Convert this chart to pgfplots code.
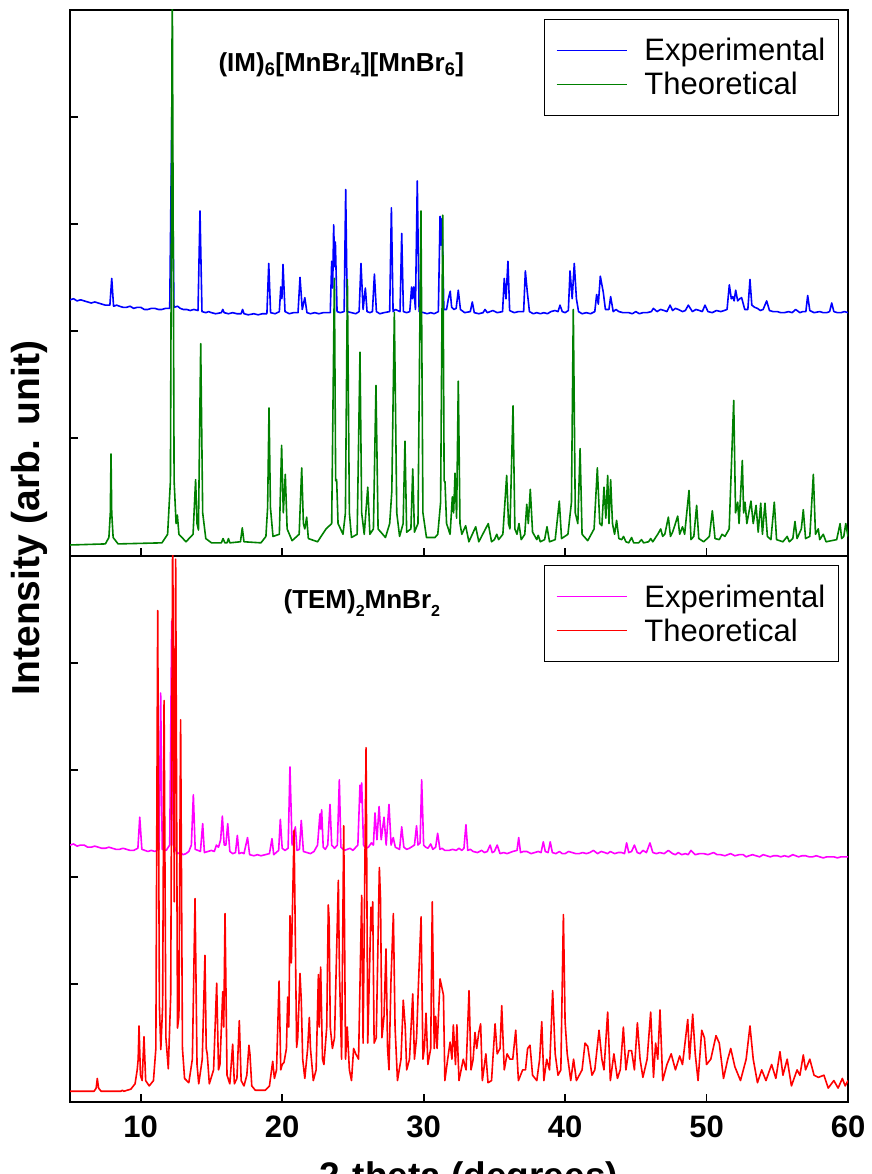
\documentclass[border=0pt]{standalone}
\usepackage{pgfplots}
\pgfplotsset{compat=1.18}
\usepackage{fontspec}
\setmainfont{Liberation Sans}
\definecolor{cblue}{RGB}{0,0,255}
\definecolor{cgreen}{RGB}{0,128,0}
\definecolor{cmag}{RGB}{255,0,255}
\definecolor{cred}{RGB}{255,0,0}
\newcommand{\tickfont}{\fontsize{31}{31}\selectfont\bfseries}
\newcommand{\legfont}{\fontsize{31}{34}\selectfont}
\newcommand{\titfont}{\fontsize{26}{26}\selectfont\bfseries}
\pgfplotsset{
  xrdaxis/.style={
    scale only axis, width=778pt, height=546pt,
    xmin=5, xmax=60, ymin=-0.1, ymax=5,
    xtick={10,20,30,40,50,60}, ytick={1,2,3,4}, yticklabels={},
    xtick pos=bottom, ytick pos=left,
    tick align=inside, major tick length=8pt,
    axis line style={line width=1.8pt, black},
    every tick/.style={line width=1.8pt, black},
    tick label style={font=\tickfont},
    xticklabel style={yshift=-10pt},
    /pgf/number format/assume math mode=true,
    legend cell align=left,
    legend style={at={(0.9884,0.9835)}, anchor=north east, draw=black, line width=1.4pt,
      font=\legfont, inner xsep=11pt, inner ysep=17pt, row sep=6pt,
      /tikz/every odd column/.append style={column sep=15pt}},
    legend image code/.code={\draw[#1,line width=1.6pt] (0pt,0pt) -- (70pt,0pt);},
    every axis plot/.append style={line width=1.6pt, line join=round},
  }
}
\begin{document}
\begin{tikzpicture}[x=1pt,y=1pt]
\begin{axis}[xrdaxis, at={(70pt,618.3pt)}, anchor=south west, xticklabels={}]
\addplot[cblue] coordinates {
(5,2.29) (5.25,2.3) (5.5,2.28) (5.75,2.29) (6,2.28) (6.25,2.27) (6.5,2.26) (6.75,2.27) (7,2.26) (7.25,2.25) (7.5,2.24) (7.82,2.24) (7.95,2.49) (8.08,2.23) (8.3,2.24) (8.5,2.23) (8.75,2.22) (9,2.22) (9.25,2.23) (9.5,2.21) (9.75,2.22) (10,2.22) (10.25,2.2) (10.5,2.2) (10.75,2.21) (11,2.21) (11.25,2.2) (11.5,2.2) (11.75,2.21) (12.05,2.21) (12.2,4.04) (12.35,2.22) (12.6,2.23) (12.8,2.21) (13,2.2) (13.25,2.2) (13.5,2.19) (13.75,2.2) (14.05,2.19) (14.19,3.12) (14.33,2.18) (14.6,2.17) (14.8,2.18) (15,2.17) (15.3,2.16) (15.7,2.17) (15.8,2.2) (15.9,2.17) (16.2,2.16) (16.5,2.17) (16.8,2.16) (17.1,2.16) (17.2,2.2) (17.3,2.16) (17.6,2.15) (18,2.16) (18.3,2.15) (18.6,2.16) (18.92,2.16) (19.05,2.63) (19.18,2.17) (19.5,2.16) (19.8,2.18) (19.9,2.41) (19.98,2.3) (20.06,2.62) (20.2,2.18) (20.5,2.16) (20.8,2.17) (21.12,2.17) (21.26,2.5) (21.42,2.2) (21.6,2.31) (21.75,2.17) (22.0,2.16) (22.3,2.17) (22.6,2.16) (22.9,2.17) (23.4,2.17) (23.5,2.65) (23.57,2.4) (23.64,2.99) (23.71,2.6) (23.76,2.83) (23.88,2.18) (24.1,2.17) (24.38,2.18) (24.49,3.32) (24.6,2.18) (24.9,2.17) (25.2,2.16) (25.44,2.18) (25.57,2.63) (25.72,2.2) (25.88,2.4) (26.0,2.18) (26.2,2.17) (26.38,2.18) (26.52,2.53) (26.66,2.18) (26.9,2.16) (27.2,2.17) (27.6,2.18) (27.72,3.15) (27.84,2.18) (28.0,2.2) (28.33,2.18) (28.45,2.91) (28.57,2.18) (28.8,2.17) (29.02,2.18) (29.15,2.41) (29.22,2.3) (29.3,2.41) (29.42,2.2) (29.55,3.4) (29.68,2.18) (30,2.17) (30.25,2.16) (30.5,2.17) (30.75,2.16) (31.04,2.18) (31.16,3.07) (31.23,2.8) (31.3,3.05) (31.43,2.2) (31.62,2.2) (31.75,2.3) (31.88,2.37) (31.98,2.22) (32.15,2.2) (32.3,2.21) (32.45,2.38) (32.6,2.2) (32.9,2.17) (33.3,2.18) (33.44,2.27) (33.58,2.17) (33.9,2.16) (34.2,2.17) (34.34,2.2) (34.5,2.17) (34.9,2.19) (35.2,2.17) (35.58,2.18) (35.7,2.49) (35.82,2.3) (35.96,2.65) (36.08,2.19) (36.4,2.17) (36.7,2.18) (37.07,2.18) (37.19,2.56) (37.33,2.36) (37.48,2.18) (37.75,2.16) (38,2.17) (38.25,2.16) (38.5,2.17) (38.75,2.16) (39,2.18) (39.29,2.19) (39.5,2.18) (39.64,2.24) (39.8,2.18) (40.0,2.17) (40.23,2.19) (40.35,2.56) (40.5,2.3) (40.65,2.63) (40.8,2.3) (40.95,2.18) (41.2,2.16) (41.5,2.17) (41.8,2.16) (42.1,2.18) (42.23,2.34) (42.35,2.25) (42.49,2.51) (42.7,2.36) (42.85,2.2) (43.1,2.2) (43.22,2.32) (43.4,2.18) (43.6,2.2) (43.8,2.18) (44.1,2.17) (44.5,2.17) (44.75,2.16) (45,2.18) (45.25,2.16) (45.5,2.17) (45.8,2.17) (46.1,2.18) (46.24,2.21) (46.5,2.18) (46.75,2.2) (47,2.19) (47.2,2.18) (47.42,2.24) (47.6,2.19) (47.8,2.21) (48,2.2) (48.3,2.18) (48.5,2.19) (48.71,2.24) (49,2.18) (49.25,2.2) (49.5,2.19) (49.7,2.18) (49.89,2.24) (50.1,2.18) (50.4,2.17) (50.7,2.19) (51,2.18) (51.25,2.19) (51.45,2.2) (51.61,2.43) (51.75,2.3) (51.85,2.32) (51.95,2.28) (52.06,2.38) (52.2,2.28) (52.35,2.3) (52.48,2.31) (52.7,2.2) (52.92,2.2) (53.07,2.48) (53.2,2.24) (53.4,2.22) (53.6,2.21) (53.8,2.19) (54,2.2) (54.25,2.28) (54.45,2.19) (54.7,2.18) (55,2.18) (55.25,2.17) (55.5,2.17) (55.8,2.18) (56.05,2.17) (56.3,2.2) (56.6,2.17) (56.8,2.18) (57.02,2.18) (57.15,2.33) (57.3,2.19) (57.6,2.17) (58,2.18) (58.25,2.17) (58.5,2.17) (58.7,2.18) (58.85,2.26) (59,2.18) (59.25,2.17) (59.5,2.17) (59.75,2.18) (60,2.17)
};
\addlegendentry{Experimental}
\addplot[cgreen] coordinates {
(5,0.0) (7.5,0.01) (7.75,0.07) (7.85,0.3) (7.9,0.85) (7.95,0.3) (8.05,0.07) (8.4,0.01) (11.5,0.02) (11.9,0.1) (12.1,0.6) (12.23,5.3) (12.36,0.6) (12.5,0.2) (12.59,0.28) (12.7,0.1) (13.2,0.03) (13.7,0.1) (13.88,0.61) (13.98,0.2) (14.08,0.14) (14.24,1.88) (14.38,0.3) (14.6,0.06) (15,0.02) (15.7,0.02) (15.82,0.06) (15.95,0.02) (16.1,0.02) (16.2,0.06) (16.3,0.02) (17.05,0.03) (17.18,0.16) (17.3,0.03) (18.5,0.02) (18.85,0.08) (18.97,0.35) (19.07,1.28) (19.17,0.35) (19.35,0.08) (19.8,0.1) (19.96,0.93) (20.08,0.3) (20.22,0.66) (20.35,0.15) (20.7,0.04) (21.2,0.1) (21.38,0.72) (21.5,0.2) (21.6,0.15) (21.73,0.26) (21.85,0.06) (22.5,0.03) (22.95,0.12) (23.1,0.15) (23.5,0.2) (23.69,2.49) (23.78,0.6) (23.85,0.61) (23.95,0.2) (24.3,0.1) (24.47,0.3) (24.61,2.48) (24.75,0.3) (24.9,0.07) (25.3,0.1) (25.5,1.8) (25.62,0.3) (25.8,0.1) (26.05,0.54) (26.2,0.1) (26.45,0.15) (26.63,1.49) (26.78,0.15) (27.3,0.07) (27.6,0.2) (27.75,0.5) (27.93,2.17) (28.1,0.3) (28.3,0.08) (28.55,0.2) (28.68,0.97) (28.8,0.12) (29.1,0.15) (29.23,0.71) (29.35,0.12) (29.6,0.2) (29.81,3.12) (29.95,0.3) (30.2,0.07) (30.8,0.07) (31.0,0.1) (31.2,0.4) (31.35,3.08) (31.45,0.6) (31.51,0.59) (31.62,0.2) (31.87,0.1) (32.03,0.45) (32.12,0.3) (32.22,0.67) (32.33,0.25) (32.45,1.53) (32.57,0.2) (32.7,0.1) (32.97,0.18) (33.2,0.03) (33.68,0.17) (33.9,0.03) (34.57,0.2) (34.8,0.03) (35.0,0.05) (35.17,0.1) (35.3,0.05) (35.6,0.1) (35.87,0.65) (36.0,0.2) (36.1,0.15) (36.32,1.3) (36.45,0.15) (36.6,0.1) (36.74,0.2) (36.9,0.05) (37.15,0.1) (37.29,0.38) (37.4,0.2) (37.54,0.52) (37.7,0.12) (38.0,0.05) (38.1,0.09) (38.25,0.03) (38.55,0.05) (38.72,0.17) (38.9,0.03) (39.3,0.05) (39.59,0.41) (39.75,0.06) (40.2,0.1) (40.45,0.4) (40.58,2.2) (40.72,0.3) (40.9,0.2) (41.06,0.9) (41.2,0.1) (41.6,0.04) (42.05,0.15) (42.28,0.72) (42.45,0.2) (42.6,0.18) (42.75,0.54) (42.88,0.25) (43.01,0.65) (43.1,0.2) (43.22,0.61) (43.35,0.2) (43.5,0.1) (43.64,0.23) (43.8,0.06) (44.0,0.05) (44.13,0.08) (44.3,0.03) (44.5,0.02) (44.7,0.07) (44.85,0.02) (45.2,0.02) (45.4,0.05) (45.55,0.02) (45.9,0.03) (46.05,0.06) (46.2,0.03) (46.55,0.1) (46.76,0.15) (46.9,0.08) (47.05,0.1) (47.3,0.26) (47.45,0.08) (47.6,0.12) (47.75,0.18) (47.96,0.27) (48.1,0.1) (48.3,0.17) (48.45,0.1) (48.76,0.51) (48.9,0.05) (49.1,0.08) (49.3,0.37) (49.45,0.06) (49.8,0.03) (50.2,0.08) (50.41,0.32) (50.6,0.06) (50.9,0.05) (51.1,0.1) (51.3,0.08) (51.6,0.15) (51.92,1.35) (52.05,0.3) (52.2,0.4) (52.3,0.2) (52.53,0.79) (52.62,0.3) (52.72,0.4) (52.85,0.2) (53.14,0.41) (53.3,0.2) (53.5,0.37) (53.65,0.12) (53.83,0.39) (53.95,0.1) (54.13,0.39) (54.3,0.08) (54.55,0.05) (54.79,0.4) (54.95,0.05) (55.4,0.03) (55.7,0.08) (55.85,0.03) (56.1,0.06) (56.25,0.22) (56.4,0.06) (56.7,0.15) (56.84,0.33) (57.0,0.06) (57.3,0.08) (57.55,0.66) (57.7,0.1) (57.9,0.15) (58.0,0.05) (58.25,0.1) (58.45,0.03) (59.2,0.05) (59.44,0.2) (59.55,0.06) (59.7,0.08) (59.84,0.2) (60,0.08)
};
\addlegendentry{Theoretical}
\node[font=\titfont, anchor=base west] at (rel axis cs:0.1864,0.8864) {(IM)\textsubscript{6}[MnBr\textsubscript{4}][MnBr\textsubscript{6}]};
\end{axis}
\begin{axis}[xrdaxis, at={(70pt,72pt)}, anchor=south west,
  xlabel={2-theta (degrees)},
  xlabel style={font=\fontsize{37}{37}\selectfont\bfseries, at={(axis description cs:0.5,0)}, anchor=base, yshift=-86pt, xshift=10pt}]
\addplot[cmag] coordinates {
(5,2.3) (5.25,2.31) (5.5,2.29) (5.75,2.3) (6,2.3) (6.25,2.28) (6.5,2.28) (6.75,2.29) (7,2.28) (7.25,2.27) (7.5,2.27) (7.75,2.28) (8,2.27) (8.25,2.26) (8.5,2.26) (8.75,2.27) (9,2.26) (9.25,2.25) (9.5,2.25) (9.8,2.27) (9.93,2.56) (10.08,2.26) (10.3,2.25) (10.5,2.24) (10.75,2.25) (11,2.24) (11.3,2.26) (11.41,3.72) (11.52,2.26) (11.8,2.25) (12.05,2.3) (12.19,4.39) (12.3,2.3) (12.6,2.22) (12.8,2.23) (13,2.21) (13.2,2.22) (13.4,2.24) (13.58,2.3) (13.72,2.77) (13.85,2.26) (14.05,2.25) (14.22,2.24) (14.38,2.5) (14.5,2.23) (14.75,2.24) (15,2.25) (15.2,2.24) (15.35,2.3) (15.5,2.28) (15.65,2.35) (15.77,2.57) (15.9,2.3) (16.02,2.3) (16.15,2.5) (16.3,2.24) (16.5,2.22) (16.7,2.23) (16.83,2.39) (16.95,2.22) (17.15,2.23) (17.3,2.22) (17.55,2.37) (17.7,2.21) (18.0,2.2) (18.25,2.21) (18.5,2.2) (18.8,2.21) (19.1,2.22) (19.28,2.36) (19.4,2.21) (19.75,2.25) (19.87,2.54) (20.0,2.27) (20.2,2.25) (20.42,2.27) (20.55,3.03) (20.7,2.3) (20.93,2.47) (21.05,2.25) (21.22,2.26) (21.35,2.53) (21.5,2.24) (21.75,2.23) (22,2.22) (22.25,2.24) (22.5,2.3) (22.67,2.59) (22.73,2.45) (22.79,2.63) (22.9,2.28) (23.05,2.26) (23.22,2.3) (23.38,2.68) (23.5,2.3) (23.7,2.27) (23.9,2.3) (24.04,2.91) (24.15,2.28) (24.4,2.25) (24.6,2.26) (24.8,2.27) (25,2.25) (25.35,2.3) (25.5,2.86) (25.56,2.7) (25.62,2.88) (25.75,2.3) (25.9,2.27) (26.1,2.28) (26.3,2.32) (26.45,2.3) (26.56,2.6) (26.7,2.35) (26.85,2.66) (27.0,2.35) (27.2,2.56) (27.35,2.3) (27.55,2.68) (27.7,2.3) (27.85,2.37) (28,2.28) (28.3,2.26) (28.45,2.47) (28.6,2.28) (28.8,2.26) (29,2.27) (29.35,2.3) (29.5,2.48) (29.6,2.3) (29.75,2.32) (29.86,2.91) (30,2.3) (30.15,2.28) (30.3,2.27) (30.5,2.31) (30.65,2.26) (30.85,2.28) (30.99,2.41) (31.15,2.26) (31.3,2.27) (31.5,2.25) (31.8,2.25) (32.05,2.26) (32.3,2.25) (32.5,2.27) (32.7,2.25) (32.85,2.27) (32.99,2.49) (33.12,2.25) (33.3,2.26) (33.5,2.24) (33.8,2.23) (34.1,2.25) (34.3,2.23) (34.5,2.24) (34.7,2.3) (34.85,2.23) (35.0,2.24) (35.2,2.3) (35.4,2.22) (35.65,2.23) (35.9,2.22) (36.1,2.23) (36.3,2.24) (36.6,2.25) (36.72,2.37) (36.85,2.23) (37.05,2.24) (37.3,2.24) (37.6,2.22) (37.85,2.23) (38.1,2.24) (38.3,2.23) (38.46,2.33) (38.6,2.24) (38.8,2.23) (38.95,2.33) (39.1,2.23) (39.35,2.22) (39.6,2.24) (39.8,2.22) (40,2.22) (40.25,2.24) (40.5,2.23) (40.75,2.22) (41,2.22) (41.25,2.23) (41.5,2.22) (41.75,2.23) (42,2.25) (42.3,2.22) (42.55,2.24) (42.8,2.23) (43.0,2.22) (43.2,2.24) (43.5,2.22) (43.75,2.23) (44,2.23) (44.2,2.22) (44.35,2.32) (44.5,2.23) (44.7,2.24) (44.9,2.3) (45.1,2.23) (45.3,2.22) (45.5,2.25) (45.75,2.23) (46,2.32) (46.2,2.23) (46.45,2.22) (46.7,2.23) (47.0,2.22) (47.3,2.25) (47.6,2.22) (47.8,2.21) (48,2.23) (48.25,2.21) (48.5,2.22) (48.7,2.21) (48.9,2.25) (49.2,2.21) (49.5,2.22) (49.8,2.22) (50.1,2.21) (50.5,2.23) (50.75,2.21) (51,2.21) (51.3,2.2) (51.7,2.22) (52,2.2) (52.3,2.21) (52.6,2.21) (52.8,2.19) (53,2.2) (53.25,2.21) (53.5,2.2) (53.75,2.19) (54,2.21) (54.25,2.2) (54.5,2.19) (54.75,2.2) (55,2.2) (55.25,2.19) (55.5,2.2) (55.8,2.19) (56.1,2.21) (56.3,2.2) (56.5,2.19) (56.75,2.2) (57,2.2) (57.25,2.19) (57.5,2.19) (57.75,2.2) (58,2.19) (58.25,2.18) (58.5,2.19) (58.75,2.19) (59,2.19) (59.25,2.18) (59.5,2.19) (59.75,2.19) (60,2.19)
};
\addlegendentry{Experimental}
\addplot[cred] coordinates {
(5,0) (6.7,0) (6.85,0.03) (6.93,0.12) (7.02,0.03) (7.2,0) (8.6,0) (8.7,0.01) (8.8,0) (9.3,0.02) (9.6,0.07) (9.75,0.2) (9.82,0.3) (9.88,0.61) (9.98,0.15) (10.1,0.1) (10.23,0.51) (10.35,0.1) (10.6,0.05) (10.9,0.1) (11.07,0.4) (11.2,4.49) (11.32,0.8) (11.42,0.39) (11.55,0.8) (11.65,3.65) (11.78,0.5) (11.95,0.21) (12.12,0.9) (12.26,5.3) (12.37,1.77) (12.47,4.97) (12.6,0.59) (12.7,0.7) (12.82,3.47) (12.95,0.4) (13.1,0.12) (13.4,0.08) (13.65,0.3) (13.84,1.8) (13.98,0.25) (14.1,0.07) (14.35,0.3) (14.54,1.27) (14.63,0.4) (14.7,0.35) (14.85,0.07) (15.15,0.2) (15.37,1.01) (15.5,0.2) (15.6,0.25) (15.8,0.93) (15.87,0.6) (15.96,1.66) (16.1,0.15) (16.3,0.07) (16.5,0.44) (16.62,0.07) (16.8,0.12) (16.97,0.66) (17.1,0.1) (17.3,0.05) (17.5,0.15) (17.65,0.43) (17.72,0.35) (17.85,0.05) (18.1,0.01) (18.8,0.01) (19.1,0.05) (19.33,0.28) (19.45,0.12) (19.6,0.2) (19.78,1.03) (19.9,0.2) (20.0,0.25) (20.13,0.27) (20.3,0.4) (20.39,0.88) (20.47,0.6) (20.55,1.64) (20.65,1.2) (20.84,2.44) (21.02,0.41) (21.1,0.5) (21.26,1.1) (21.35,0.85) (21.45,0.3) (21.6,0.12) (21.8,0.4) (21.92,0.69) (22.0,0.4) (22.2,0.1) (22.4,0.2) (22.56,1.09) (22.62,0.6) (22.72,1.16) (22.85,0.3) (22.95,0.25) (23.15,0.6) (23.26,1.74) (23.32,1.6) (23.4,0.6) (23.55,0.4) (23.7,0.5) (23.97,1.97) (24.05,1.1) (24.2,0.3) (24.35,2.48) (24.48,0.3) (24.6,0.6) (24.75,0.2) (24.9,0.1) (25.05,0.4) (25.2,0.35) (25.4,0.3) (25.62,1.83) (25.72,0.45) (25.93,3.21) (26.05,0.45) (26.28,1.72) (26.34,1.5) (26.4,1.77) (26.5,0.45) (26.65,0.5) (26.87,2.09) (26.95,1.8) (27.05,0.5) (27.2,0.7) (27.34,1.33) (27.45,0.4) (27.55,0.2) (27.69,1.03) (27.86,1.66) (27.98,0.6) (28.15,0.1) (28.4,0.3) (28.56,0.85) (28.7,0.6) (28.8,0.2) (29.0,0.3) (29.23,0.91) (29.35,0.3) (29.5,0.5) (29.63,0.99) (29.82,1.63) (29.95,0.3) (30.05,0.4) (30.17,0.73) (30.3,0.25) (30.5,0.4) (30.61,1.77) (30.75,0.4) (30.85,0.7) (30.95,0.4) (31.16,1.05) (31.4,0.9) (31.5,0.1) (31.7,0.3) (31.87,0.46) (32.0,0.3) (32.1,0.62) (32.25,0.25) (32.35,0.62) (32.5,0.1) (32.8,0.3) (33.0,0.2) (33.21,0.94) (33.35,0.2) (33.5,0.3) (33.63,0.55) (33.75,0.4) (33.9,0.55) (34.03,0.63) (34.15,0.1) (34.4,0.35) (34.55,0.08) (34.8,0.1) (35.05,0.63) (35.2,0.35) (35.4,0.4) (35.52,0.8) (35.7,0.2) (35.9,0.35) (36.1,0.3) (36.3,0.3) (36.51,0.57) (36.7,0.1) (37.0,0.2) (37.2,0.2) (37.35,0.4) (37.52,0.43) (37.7,0.15) (38.0,0.1) (38.2,0.3) (38.35,0.65) (38.5,0.1) (38.7,0.3) (38.9,0.2) (39.12,0.94) (39.3,0.35) (39.5,0.15) (39.7,0.2) (39.88,1.65) (40.0,0.65) (40.15,0.35) (40.4,0.1) (40.6,0.3) (40.8,0.1) (41.2,0.2) (41.41,0.45) (41.6,0.42) (41.9,0.15) (42.1,0.2) (42.4,0.57) (42.6,0.3) (42.75,0.2) (43.01,0.74) (43.2,0.1) (43.45,0.35) (43.7,0.12) (43.9,0.2) (44.12,0.6) (44.3,0.2) (44.5,0.38) (44.7,0.38) (44.9,0.2) (45.11,0.64) (45.3,0.3) (45.5,0.13) (45.8,0.3) (46.05,0.74) (46.25,0.13) (46.4,0.45) (46.55,0.3) (46.71,0.76) (46.9,0.1) (47.2,0.25) (47.5,0.35) (47.8,0.2) (48.1,0.33) (48.3,0.25) (48.67,0.67) (48.8,0.3) (49.02,0.72) (49.2,0.35) (49.4,0.1) (49.66,0.57) (49.85,0.5) (50.0,0.25) (50.3,0.3) (50.67,0.52) (50.9,0.45) (51.2,0.12) (51.5,0.3) (51.71,0.4) (52.0,0.23) (52.4,0.1) (52.8,0.3) (53.07,0.61) (53.3,0.3) (53.6,0.08) (53.9,0.2) (54.2,0.1) (54.6,0.25) (54.9,0.12) (55.19,0.37) (55.4,0.15) (55.7,0.3) (56.0,0.05) (56.4,0.2) (56.6,0.15) (56.84,0.34) (57.0,0.2) (57.3,0.3) (57.6,0.15) (57.9,0.13) (58.3,0.15) (58.6,0.03) (59.0,0.1) (59.3,0.03) (59.6,0.12) (59.8,0.05) (60,0.1)
};
\addlegendentry{Theoretical}
\node[font=\titfont, anchor=base west] at (rel axis cs:0.27,0.9043) {(TEM)\raisebox{-0.3em}{\fontsize{16}{16}\selectfont 2}MnBr\raisebox{-0.3em}{\fontsize{16}{16}\selectfont 2}};
\end{axis}
\node[rotate=90, font=\fontsize{39}{39}\selectfont\bfseries] at (29pt,656pt) {Intensity (arb. unit)};
\pgfresetboundingbox
\useasboundingbox (0pt,0pt) rectangle (871pt,1174pt);
\end{tikzpicture}
\end{document}
